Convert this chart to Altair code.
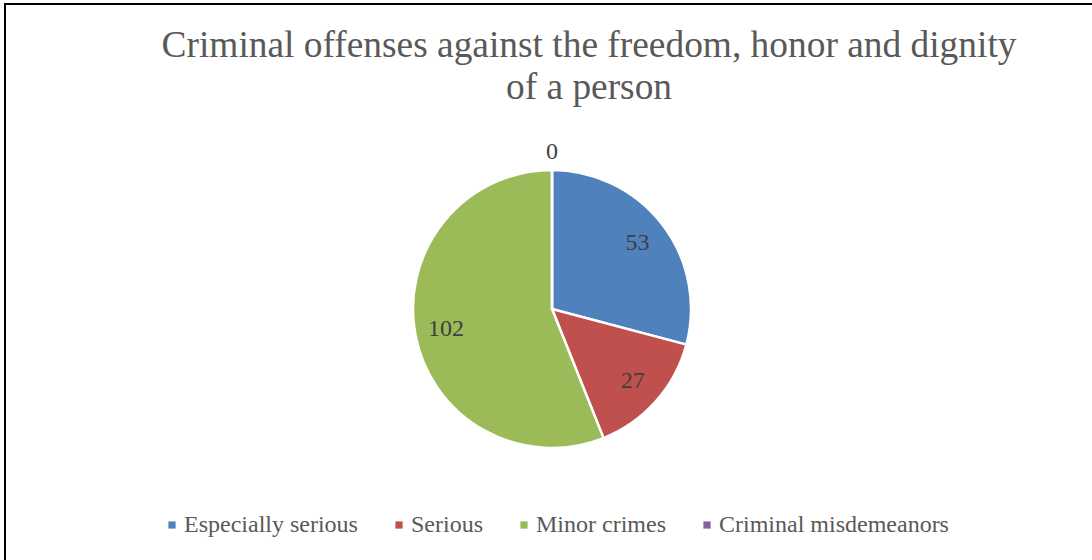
import altair as alt
import pandas as pd

categories = ["Especially serious", "Serious", "Minor crimes", "Criminal misdemeanors"]
values = [53, 27, 102, 0]
colors = ["#4F81BD", "#C0504D", "#9BBB59", "#8064A2"]
title_lines = ["Criminal offenses against the freedom, honor and dignity", "of a person"]

df = pd.DataFrame({"category": categories, "value": values, "idx": list(range(len(categories)))})

SERIF = "Liberation Serif"
CX, CY, R = 552, 309, 139

base = alt.Chart(df)

color = alt.Color(
    "category:N",
    scale=alt.Scale(domain=categories, range=colors),
    legend=alt.Legend(
        title=None,
        orient="none",
        legendX=160,
        legendY=513,
        direction="horizontal",
        symbolType="square",
        symbolSize=52,
        symbolStrokeWidth=0,
        labelFont=SERIF,
        labelFontSize=24,
        labelColor="#595959",
        labelOffset=0,
        columnPadding=29,
        labelLimit=400,
    ),
)

arcs = base.mark_arc(outerRadius=R, stroke="white", strokeWidth=2.5).encode(
    theta=alt.Theta("value:Q", stack=True),
    color=color,
    order=alt.Order("idx:Q"),
    x=alt.value(CX),
    y=alt.value(CY),
)

labels_in = base.transform_filter("datum.value > 0").mark_text(
    radius=108, font=SERIF, fontSize=24, color="#404040", baseline="middle", align="center"
).encode(
    theta=alt.Theta("value:Q", stack=True),
    order=alt.Order("idx:Q"),
    text=alt.Text("value:Q"),
    x=alt.value(CX),
    y=alt.value(CY),
)

labels_out = base.transform_filter("datum.value == 0").mark_text(
    radius=157, font=SERIF, fontSize=24, color="#404040", baseline="middle", align="center"
).encode(
    theta=alt.Theta("value:Q", stack=True),
    order=alt.Order("idx:Q"),
    text=alt.Text("value:Q"),
    x=alt.value(CX),
    y=alt.value(CY),
)

title = alt.Chart(pd.DataFrame({"t": [0]})).mark_text(
    text=title_lines, font=SERIF, fontSize=37.4, color="#595959",
    baseline="alphabetic", align="center", lineHeight=42,
).encode(x=alt.value(589), y=alt.value(57))

border_top = alt.Chart(pd.DataFrame({"t": [0]})).mark_rule(color="black", strokeWidth=2).encode(
    x=alt.value(4), x2=alt.value(1092), y=alt.value(4)
)
border_left = alt.Chart(pd.DataFrame({"t": [0]})).mark_rule(color="black", strokeWidth=2).encode(
    x=alt.value(5), y=alt.value(3), y2=alt.value(560)
)

chart = alt.layer(arcs, labels_in, labels_out, title, border_top, border_left).properties(
    width=1092, height=560, autosize=alt.AutoSizeParams(type="none"), padding=0, background="white"
).configure_view(stroke=None)

chart.save("out.html", embed_options={"renderer": "svg", "actions": False})
